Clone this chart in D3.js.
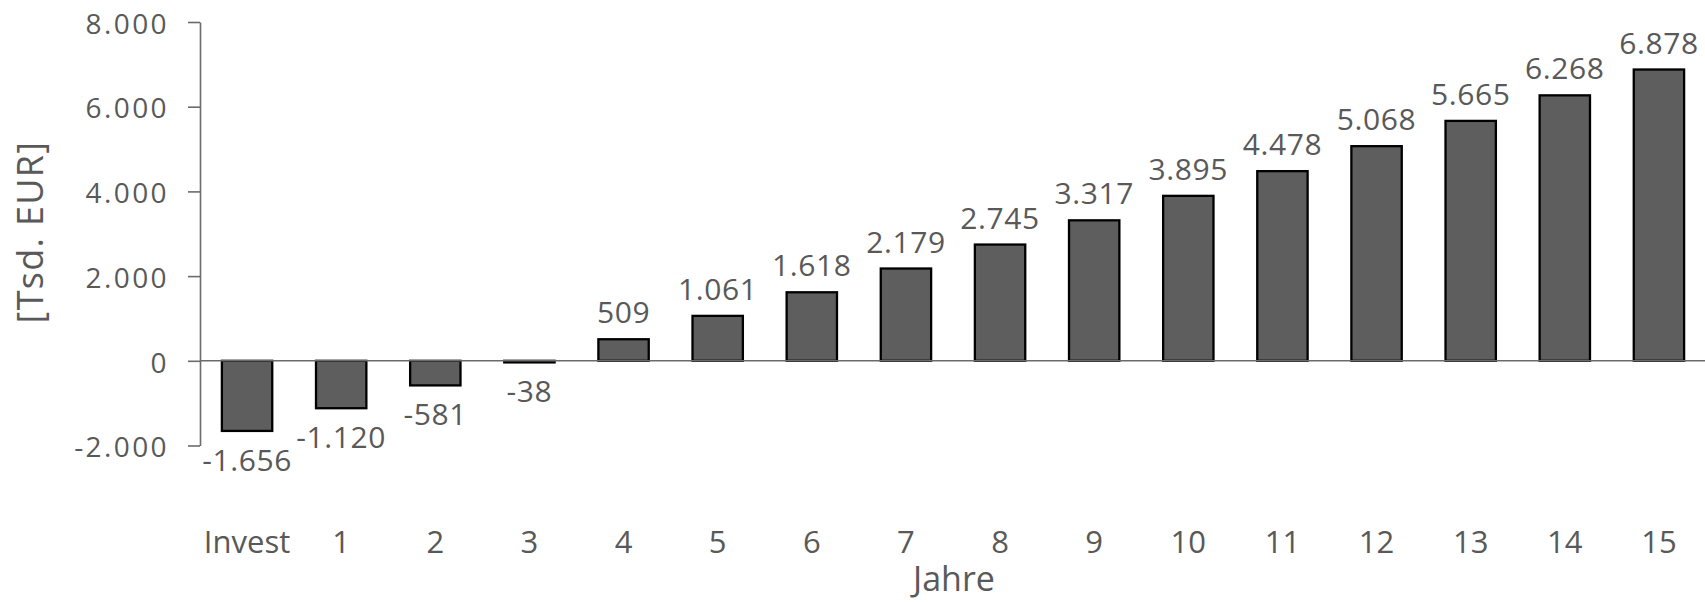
<!DOCTYPE html>
<html>
<head>
<meta charset="utf-8">
<script src="https://cdn.jsdelivr.net/npm/d3@7"></script>
<style>
  html, body { margin: 0; padding: 0; background: #ffffff; }
  svg { display: block; font-family: "Open Sans", sans-serif; }
</style>
</head>
<body>
<svg id="chart" width="1705" height="603"></svg>
<script>
// ---- data ----
const categories = ["Invest", "1", "2", "3", "4", "5", "6", "7", "8", "9", "10", "11", "12", "13", "14", "15"];
const values = [-1656, -1120, -581, -38, 509, 1061, 1618, 2179, 2745, 3317, 3895, 4478, 5068, 5665, 6268, 6878];
const yTicks = [-2000, 0, 2000, 4000, 6000, 8000];
const yTitle = "[Tsd. EUR]";
const xTitle = "Jahre";

// ---- setup ----
const svg = d3.select("#chart");
const textColor = "#595959";
const axisColor = "#6b6b6b";
const de = d3.formatLocale({ decimal: ",", thousands: ".", grouping: [3], currency: ["", " €"], minus: "-" });
const fmt = de.format(",d");

const x = d3.scaleBand()
  .domain(categories)
  .range([200, 1706])
  .paddingInner(0.465)
  .paddingOuter(0.2325);

const y = d3.scaleLinear()
  .domain([-2000, 8000])
  .range([445.5, 22]);

// ---- y axis ----
const yAxis = svg.append("g").attr("transform", "translate(200,0)")
  .call(d3.axisLeft(y).tickValues(yTicks).tickSize(12).tickSizeOuter(0).tickFormat(fmt));
yAxis.select(".domain").attr("stroke", axisColor).attr("stroke-width", 1.6);
yAxis.selectAll(".tick line").attr("stroke", axisColor).attr("stroke-width", 1.6);
yAxis.selectAll(".tick text")
  .attr("x", -31)
  .attr("dy", "0.40em")
  .attr("fill", textColor)
  .attr("font-size", 28)
  .attr("letter-spacing", 2.4)
  .attr("font-family", "'Open Sans', sans-serif");

// ---- bars ----
svg.append("g").selectAll("rect")
  .data(values)
  .join("rect")
  .attr("x", (d, i) => x(categories[i]))
  .attr("width", x.bandwidth())
  .attr("y", d => y(Math.max(0, d)))
  .attr("height", d => Math.abs(y(d) - y(0)))
  .attr("fill", "#5e5e5e")
  .attr("stroke", "#000000")
  .attr("stroke-width", 2.3);

// ---- zero line (x axis) ----
const xAxis = svg.append("g").attr("transform", `translate(0,${y(0)})`)
  .call(d3.axisBottom(x).tickSize(0).tickFormat(""));
xAxis.select(".domain").attr("stroke", axisColor).attr("stroke-width", 1.6)
  .attr("d", `M200,0H1705`);

// ---- value labels ----
svg.append("g").selectAll("text")
  .data(values)
  .join("text")
  .attr("x", (d, i) => x(categories[i]) + x.bandwidth() / 2)
  .attr("y", d => d >= 0 ? y(d) - 16 : y(d) + 40)
  .attr("text-anchor", "middle")
  .attr("fill", textColor)
  .attr("font-size", 30)
  .attr("letter-spacing", 0.6)
  .text(d => fmt(d));

// ---- category labels ----
svg.append("g").selectAll("text")
  .data(categories)
  .join("text")
  .attr("x", d => x(d) + x.bandwidth() / 2)
  .attr("y", 553)
  .attr("text-anchor", "middle")
  .attr("fill", textColor)
  .attr("font-size", 31)
  .text(d => d);

// ---- axis titles ----
svg.append("text")
  .attr("transform", "translate(43,232) rotate(-90)")
  .attr("text-anchor", "middle")
  .attr("fill", textColor)
  .attr("font-size", 36)
  .attr("letter-spacing", 1.3)
  .text(yTitle);

svg.append("text")
  .attr("x", 954)
  .attr("y", 591)
  .attr("text-anchor", "middle")
  .attr("fill", textColor)
  .attr("font-size", 34)
  .text(xTitle);
</script>
</body>
</html>
